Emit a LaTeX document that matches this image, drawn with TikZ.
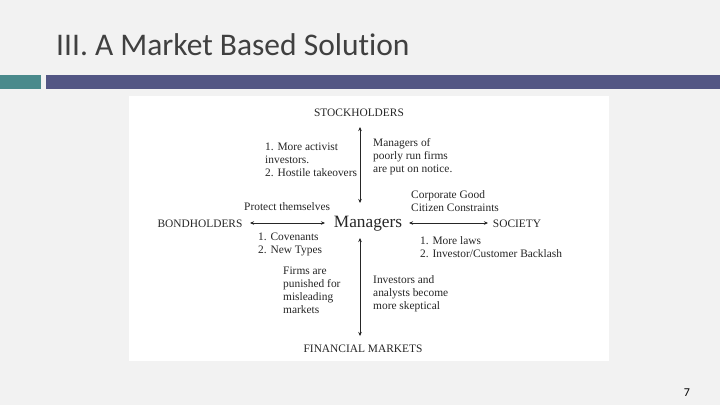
\documentclass[tikz,border=0pt]{standalone}
\usepackage{fontspec}
\setmainfont{Carlito}[RawFeature=-liga]
\newfontfamily\tnr{Liberation Serif}
\usetikzlibrary{arrows.meta}
\definecolor{bgc}{HTML}{F2F2F2}
\definecolor{tealbar}{HTML}{4A8A8C}
\definecolor{purplebar}{HTML}{535684}
\definecolor{titlec}{HTML}{404040}
\definecolor{inkc}{HTML}{262626}
\begin{document}
\begin{tikzpicture}[x=1pt,y=-1pt,
  lbl/.style={font=\tnr\fontsize{11.4}{13}\selectfont, text=inkc, anchor=base west, inner sep=0pt, align=left},
  party/.style={font=\tnr\fontsize{11.4}{13}\selectfont, text=inkc, anchor=base, inner sep=0pt},
  conn/.style={draw=inkc, line width=0.6pt, {Stealth[length=4pt,width=3.5pt]}-{Stealth[length=4pt,width=3.5pt]}}]
\useasboundingbox (0,0) rectangle (720,405);
\fill[bgc] (0,0) rectangle (720,405);
\node[font=\fontsize{31.5}{34}\selectfont, text=titlec, anchor=base west, inner sep=0pt] (title) at (56,55) {III. A Market Based Solution};
\fill[tealbar] (0,75) rectangle (41,89);
\fill[purplebar] (46,75) rectangle (720,89);
\fill[white] (129,96) rectangle (609,361);
% parties
\node[party] (stock) at (359,116) {STOCKHOLDERS};
\node[party] (bond) at (200,227) {BONDHOLDERS};
\node[party] (soc) at (517,227) {SOCIETY};
\node[party] (fin) at (363,352) {FINANCIAL MARKETS};
\node[font=\tnr\fontsize{17.3}{20}\selectfont, text=inkc, anchor=base, inner sep=0pt] (mgr) at (368,227) {Managers};
% arrow end points
\coordinate (vt1) at (360,127);
\coordinate (vt2) at (360,203);
\coordinate (vb1) at (360,238);
\coordinate (vb2) at (360,336);
\coordinate (hl1) at (250,223);
\coordinate (hl2) at (325,223);
\coordinate (hr1) at (409,223);
\coordinate (hr2) at (488,223);
\draw[conn] (vt1) -- (vt2);
\draw[conn] (vb1) -- (vb2);
\draw[conn] (hl1) -- (hl2);
\draw[conn] (hr1) -- (hr2);
% labels (anchored at the baseline of their last line)
\node[lbl] (l1) at (265,176) {1. More activist\\investors.\\2. Hostile takeovers};
\node[lbl] (l2) at (373,172) {Managers of\\poorly run firms\\are put on notice.};
\node[lbl] (l3) at (244,210) {Protect themselves};
\node[lbl] (l4) at (411,211) {Corporate Good\\Citizen Constraints};
\node[lbl] (l5) at (258,253) {1. Covenants\\2. New Types};
\node[lbl] (l6) at (283,313) {Firms are\\punished for\\misleading\\markets};
\node[lbl] (l7) at (420,257) {1. More laws\\2. Investor/Customer Backlash};
\node[lbl] (l8) at (373,309) {Investors and\\analysts become\\more skeptical};
\node[font=\fontsize{12}{14}\selectfont, anchor=base, inner sep=0pt] (pg) at (687,396) {7};
\end{tikzpicture}
\end{document}
